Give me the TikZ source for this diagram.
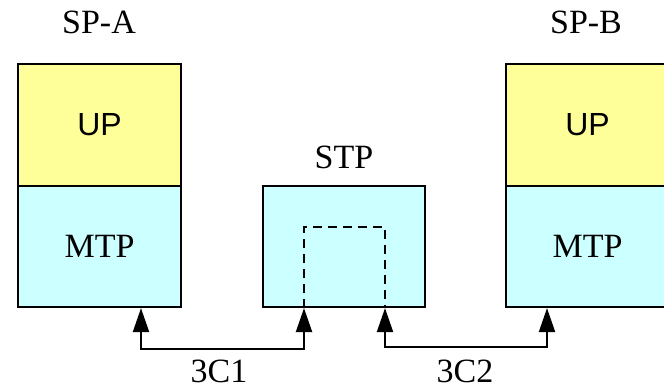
\documentclass[tikz,border=0pt]{standalone}
\usepackage{fontspec}
\setmainfont{Liberation Serif}
\newfontfamily\arialf{Liberation Sans}
\usetikzlibrary{arrows.meta}
\definecolor{upyel}{HTML}{FFFF99}
\definecolor{mtpcy}{HTML}{CCFFFF}
\begin{document}
\begin{tikzpicture}[x=1pt,y=-1pt,
  lbl/.style={font=\fontsize{34}{38}\selectfont, inner sep=0pt},
  upbox/.style={draw, line width=2.2pt, fill=upyel, minimum width=163pt, minimum height=122pt, inner sep=0pt, font=\arialf\fontsize{32}{38}\selectfont},
  mtpbox/.style={draw, line width=2.2pt, fill=mtpcy, minimum width=163pt, minimum height=121pt, inner sep=0pt, font=\fontsize{34}{38}\selectfont},
  conn/.style={line width=2.2pt, -{Triangle[width=16pt,length=24pt]}}]
\useasboundingbox (0,0) rectangle (664,388);
\begin{scope}
\clip (0,0) rectangle (664,388);
\node[upbox] (upA) at (99.5,125) {UP};
\node[mtpbox] (mtpA) at (99.5,246.5) {MTP};
\node[mtpbox, minimum width=162pt] (stp) at (344,246.5) {};
\node[upbox] (upB) at (587.5,125) {UP};
\node[mtpbox] (mtpB) at (587.5,246.5) {MTP};
\end{scope}
\node[lbl] (spa) at (99,22) {SP-A};
\node[lbl] (spb) at (586,22) {SP-B};
\node[lbl] (stpl) at (344,157) {STP};
\node[lbl] (c1) at (219,371) {3C1};
\node[lbl] (c2) at (465,371) {3C2};
% dashed path inside STP
\coordinate (d1) at (304,227);
\coordinate (d2) at (385,227);
\draw[line width=2.2pt, dash pattern=on 9pt off 6pt] (d1 |- stp.south) -- (d1) -- (d2) -- (d2 |- stp.south);
% connectors
\coordinate (a1) at (141,349);
\coordinate (a2) at (304,349);
\coordinate (b1) at (385,347);
\coordinate (b2) at (547,347);
\draw[conn] (a2) -- (a1) -- (a1 |- mtpA.south);
\draw[conn] (a1) -- (a2) -- (a2 |- stp.south);
\draw[conn] (b2) -- (b1) -- (b1 |- stp.south);
\draw[conn] (b1) -- (b2) -- (b2 |- mtpB.south);
\end{tikzpicture}
\end{document}
